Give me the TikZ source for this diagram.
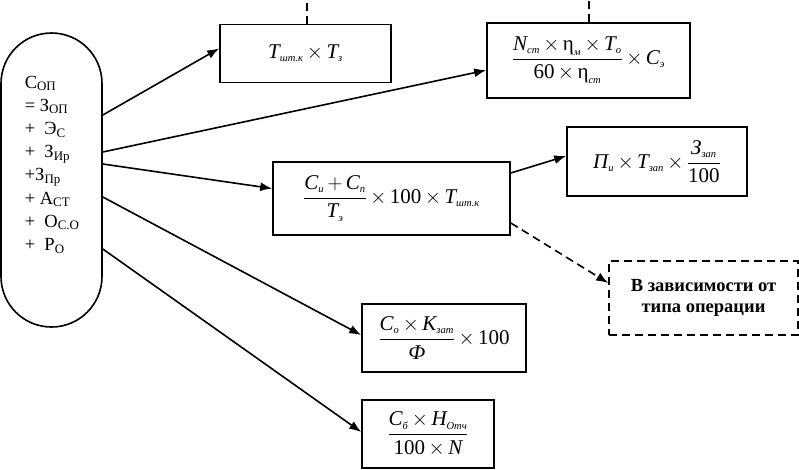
\documentclass[tikz,border=0pt]{standalone}
\usepackage{amsmath}
\usepackage{fontspec}
\setmainfont{Liberation Serif}
\usetikzlibrary{arrows.meta}
\DeclareMathSizes{21}{21}{10.5}{8.5}
\newcommand{\mv}[1]{\textit{#1}}
\newcommand{\by}[0]{\mathbin{\times}}
\newcommand{\num}[1]{\textrm{#1}}
\newcommand{\formulaSize}[0]{\fontsize{21}{25}\selectfont\medmuskip=3mu plus 1mu minus 1mu}

\begin{document}
\begin{tikzpicture}[x=1pt, y=-1pt, line width=1.6pt]
  \tikzset{term/.style={draw, rectangle, inner sep=0pt, font=\formulaSize},
    optional/.style={dash pattern=on 8pt off 5pt},
    link/.style={-{Latex[length=12pt,width=9pt]}}}
  \useasboundingbox (0,0) rectangle (799,469);
  \node[draw, rounded corners=50.5pt, minimum width=101, minimum height=294] (COST) at (51.5,180) {};
  \node[anchor=north west, align=left, inner sep=0pt, font=\fontsize{18.5}{23.2}\selectfont] (COST-text) at (24,75)
    {С\textsubscript{ОП}\\= З\textsubscript{ОП}\\+ \ Э\textsubscript{С}\\+ \ З\textsubscript{Ир}\\+З\textsubscript{Пр}\\+ А\textsubscript{СТ}\\+ \ О\textsubscript{С.О}\\+ \ Р\textsubscript{О}};
  \node[term, minimum width=171, minimum height=58] (TERM-1) at (305.5,53.4)
    {$\mv{T}_{\mv{шт.к}}\by\mv{T}_{\mv{з}}$};
  \node[term, minimum width=203, minimum height=75] (TERM-2) at (588.5,60.2)
    {$\dfrac{\mv{N}_{\mv{ст}}\by\textrm{η}_{\mv{м}}\by\mv{T}_{\mv{о}}}{\num{60}\by\textrm{η}_{\mv{ст}}}\by\mv{C}_{\mv{э}}$};
  \node[term, minimum width=237, minimum height=73] (TERM-3) at (391.5,198.5)
    {$\dfrac{\mv{C}_{\mv{и}}+\mv{C}_{\mv{п}}}{\mv{T}_{\mv{э}}}\by\num{100}\by\mv{T}_{\mv{шт.к}}$};
  \node[term, minimum width=180, minimum height=69] (TERM-3-1) at (657,161.5)
    {$\mv{П}_{\mv{и}}\by\mv{T}_{\mv{зап}}\by\dfrac{\mv{З}_{\mv{зап}}}{\num{100}}$};
  \node[term, optional, minimum width=189, minimum height=74, align=center, font=\fontsize{18.5}{21}\selectfont\bfseries] (NOTE-3-2) at (703.5,298)
    {В зависимости от\\типа операции};
  \node[term, minimum width=164, minimum height=68] (TERM-4) at (444,338)
    {$\dfrac{\mv{C}_{\mv{о}}\by\mv{K}_{\mv{зат}}}{\mv{Ф}}\by\num{100}$};
  \node[term, minimum width=132, minimum height=68] (TERM-5) at (428,434)
    {$\dfrac{\mv{C}_{\mv{б}}\by\mv{H}_{\mv{Отч}}}{\num{100}\by\mv{N}}$};
  \coordinate (TOP-1) at (307,0);
  \coordinate (TOP-2) at (589,0);
  \draw[optional] (TOP-1 |- TERM-1.north) -- (TOP-1);
  \draw[optional] (TOP-2 |- TERM-2.north) -- (TOP-2);
  \draw[link] ([yshift=65pt]COST.east) -- ([yshift=5pt]TERM-1.west);
  \draw[link] ([yshift=28pt]COST.east) -- ([yshift=-10pt]TERM-2.west);
  \draw[link] ([yshift=16pt]COST.east) -- ([yshift=10pt]TERM-3.west);
  \draw[link] ([yshift=-17pt]COST.east) -- ([yshift=3pt]TERM-4.west);
  \draw[link] ([yshift=-69pt]COST.east) -- ([yshift=2pt]TERM-5.west);
  \draw[link] ([yshift=25.5pt]TERM-3.east) -- ([yshift=5.5pt]TERM-3-1.west);
  \draw[link, optional] ([yshift=-24.5pt]TERM-3.east) -- ([yshift=15pt]NOTE-3-2.west);
\end{tikzpicture}
\end{document}
